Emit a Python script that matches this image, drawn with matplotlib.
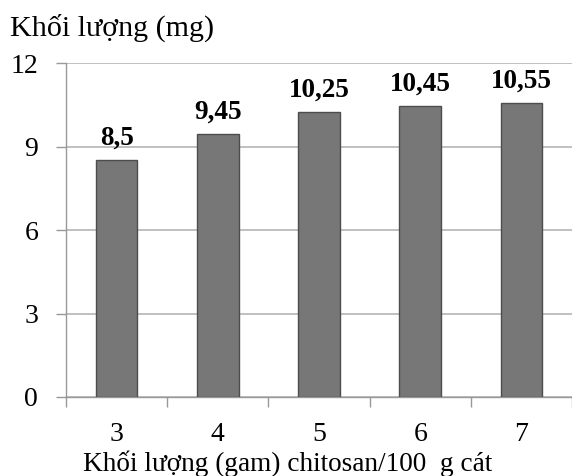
import matplotlib
matplotlib.use("Agg")
import matplotlib.pyplot as plt
import numpy as np

categories = ["3", "4", "5", "6", "7"]
values = [8.5, 9.45, 10.25, 10.45, 10.55]
value_labels = ["8,5", "9,45", "10,25", "10,45", "10,55"]
yticks = [0, 3, 6, 9, 12]

plt.rcParams['font.family'] = ['Liberation Serif', 'DejaVu Serif']

fig = plt.figure(figsize=(5.72, 4.76), dpi=100)
ax = fig.add_axes([66/572, 1-397/476, 1-66/572, (397-63)/476])

x = np.arange(len(categories))
ax.bar(x, values, width=0.41, color='#777777', edgecolor='#4d4d4d', linewidth=1.0, zorder=3)
for xi, v, lab in zip(x, values, value_labels):
    ax.text(xi, v + 0.55, lab, ha='center', va='baseline', fontsize=19.5, fontweight='bold', zorder=4)

ax.set_xlim(-0.5, len(categories) - 0.5)
ax.set_ylim(0, 12)
ax.set_yticks(yticks)
ax.set_yticklabels([str(t) for t in yticks], fontsize=20)
ax.set_xticks(x)
ax.set_xticklabels(categories, fontsize=20)
ax.set_xticks(np.arange(-0.5, len(categories)), minor=True)
ax.tick_params(axis='x', which='major', length=0, pad=18)
ax.tick_params(axis='x', which='minor', length=7, width=1, color='#999999', direction='out')
ax.tick_params(axis='y', length=7, width=1, color='#999999', pad=13)
ax.yaxis.grid(True, color='#b5b5b5', linewidth=1.2, zorder=0)
for s in ['top', 'right']:
    ax.spines[s].set_visible(False)
for s in ['left', 'bottom']:
    ax.spines[s].set_color('#999999')
    ax.spines[s].set_linewidth(1.0)

fig.text(288/572, 1-471/476, "Khối lượng (gam) chitosan/100  g cát", fontsize=19.6,
         ha='center', va='baseline')
fig.text(10/572, 1-36/476, "Khối lượng (mg)", fontsize=21.6, ha='left', va='baseline')

fig.savefig("out.png", dpi=100)
